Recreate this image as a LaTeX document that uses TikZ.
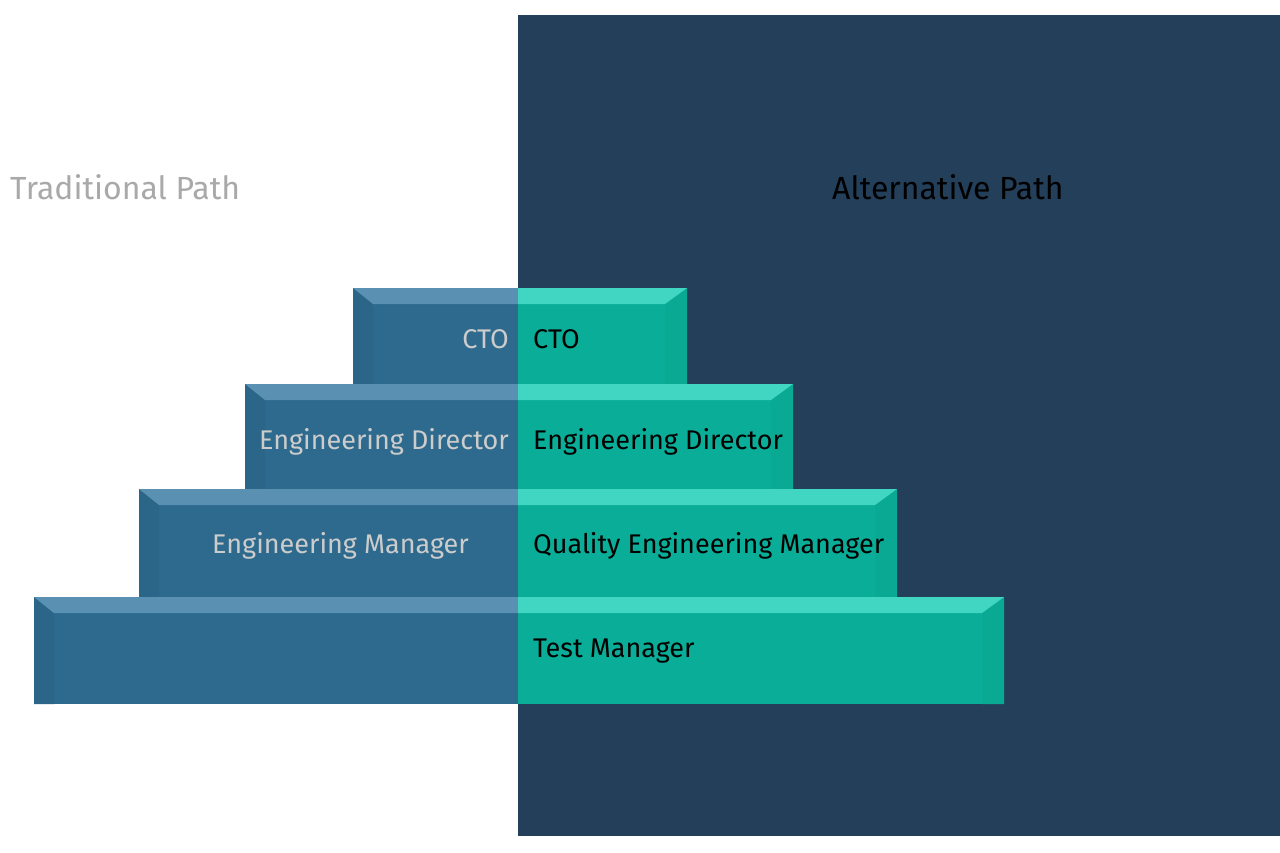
\documentclass[tikz,border=0pt]{standalone}
\usepackage{fontspec}
\setmainfont{Fira Sans}
\definecolor{navy}{HTML}{233F5A}
\definecolor{bluface}{HTML}{2D6A8D}
\definecolor{bluside}{HTML}{2B6688}
\definecolor{blutop}{HTML}{5A90B2}
\definecolor{tealface}{HTML}{0AAD97}
\definecolor{tealside}{HTML}{0AA993}
\definecolor{tealtop}{HTML}{41D6C2}
\definecolor{lbltxt}{HTML}{CCCCCC}
\definecolor{ttltxt}{HTML}{A9A9A9}
\newcommand{\stair}[4]{% left, right, top, bottom
  \fill[bluface] (#1,#3) rectangle (518,#4);
  \fill[tealface] (518,#3) rectangle (#2,#4);
  \fill[bluside] (#1,#3) -- (#1+20,#3+16) -- (#1+20,#4) -- (#1,#4) -- cycle;
  \fill[tealside] (#2,#3) -- (#2-22,#3+16) -- (#2-22,#4) -- (#2,#4) -- cycle;
  \fill[blutop] (#1,#3) -- (518,#3) -- (518,#3+16) -- (#1+20,#3+16) -- cycle;
  \fill[tealtop] (518,#3) -- (#2,#3) -- (#2-22,#3+16) -- (518,#3+16) -- cycle;
}
\tikzset{
  lefttxt/.style={text=lbltxt, font=\fontsize{27}{32}\selectfont, inner sep=0pt},
  righttxt/.style={text=black, font=\fontsize{27}{32}\selectfont, inner sep=0pt, anchor=base west},
  title/.style={font=\fontsize{32}{38}\selectfont, inner sep=0pt, anchor=base west}
}
\begin{document}
\begin{tikzpicture}[x=1pt,y=-1pt]
\useasboundingbox (0,0) rectangle (1280,853);
\fill[white] (0,0) rectangle (1280,853);
\fill[navy] (518,15) rectangle (1280,836);
\stair{353}{687}{288}{384}
\stair{245}{793}{384}{489}
\stair{139}{897}{489}{597}
\stair{34}{1004}{597}{704}
\node[title, text=ttltxt] (trad) at (10,200) {Traditional Path};
\node[title, text=black] (alt) at (832,200) {Alternative Path};
\node[lefttxt, anchor=base east] (lcto) at (509,348) {CTO};
\node[lefttxt, anchor=base east] (ldir) at (509,449) {Engineering Director};
\node[lefttxt, anchor=base west] (lmgr) at (212,553) {Engineering Manager};
\node[righttxt] (rcto) at (533,348) {CTO};
\node[righttxt] (rdir) at (533,449) {Engineering Director};
\node[righttxt] (rqem) at (533,553) {Quality Engineering Manager};
\node[righttxt] (rtest) at (533,657) {Test Manager};
\end{tikzpicture}
\end{document}
